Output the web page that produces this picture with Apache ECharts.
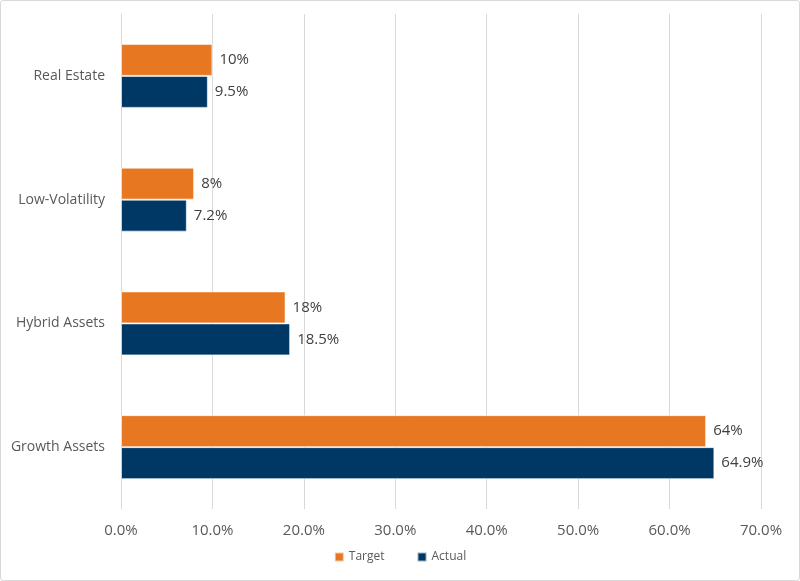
<!DOCTYPE html>
<html>
<head>
<meta charset="utf-8">
<script src="https://cdn.jsdelivr.net/npm/echarts@6/dist/echarts.min.js"></script>
<style>
  html, body { margin: 0; padding: 0; background: #fff; }
  #chart { width: 798px; height: 579px; border: 1px solid #d9d9d9; border-radius: 3px; }
</style>
</head>
<body>
<div id="chart"></div>
<script>
// Data (bottom to top on the category axis)
var categories = ['Growth Assets', 'Hybrid Assets', 'Low-Volatility', 'Real Estate'];
var targetValues = [64, 18, 8, 10];
var actualValues = [64.9, 18.5, 7.2, 9.5];
var xTicks = [0, 10, 20, 30, 40, 50, 60, 70];

var fontFamily = '"Open Sans", "Noto Sans", sans-serif';

var chartDom = document.getElementById('chart');
var myChart = echarts.init(chartDom);

function barSeries(name, values, color) {
    return {
        name: name,
        type: 'bar',
        data: values,
        barWidth: 32,
        barGap: '0%',
        itemStyle: {
            color: color,
            borderColor: 'rgba(255,255,255,0.6)',
            borderWidth: 1
        },
        label: {
            show: true,
            position: 'right',
            distance: 7,
            color: '#404040',
            fontSize: 15,
            fontFamily: fontFamily,
            formatter: function (p) { return p.value + '%'; }
        }
    };
}

var option = {
    animation: false,
    grid: { left: 120, right: 38, top: 13, bottom: 71 },
    legend: {
        data: ['Target', 'Actual'],
        bottom: 12,
        left: 'center',
        itemWidth: 9,
        itemHeight: 9,
        itemGap: 32,
        icon: 'rect',
        textStyle: { color: '#595959', fontSize: 12, fontFamily: fontFamily }
    },
    xAxis: {
        type: 'value',
        min: xTicks[0],
        max: xTicks[xTicks.length - 1],
        interval: 10,
        axisLine: { show: false },
        axisTick: { show: false },
        splitLine: { lineStyle: { color: '#d9d9d9', width: 1 } },
        axisLabel: {
            color: '#595959',
            fontSize: 15,
            fontFamily: fontFamily,
            margin: 14,
            formatter: function (v) { return v.toFixed(1) + '%'; }
        }
    },
    yAxis: {
        type: 'category',
        data: categories,
        axisLine: { show: true, lineStyle: { color: '#d9d9d9' } },
        axisTick: { show: false },
        axisLabel: {
            color: '#595959',
            fontSize: 14,
            fontFamily: fontFamily,
            margin: 16
        }
    },
    series: [
        barSeries('Target', targetValues, '#E87722'),
        barSeries('Actual', actualValues, '#003865')
    ]
};
option && myChart.setOption(option);
window.addEventListener('resize', function () {
    myChart.resize();
});
</script>
</body>
</html>
